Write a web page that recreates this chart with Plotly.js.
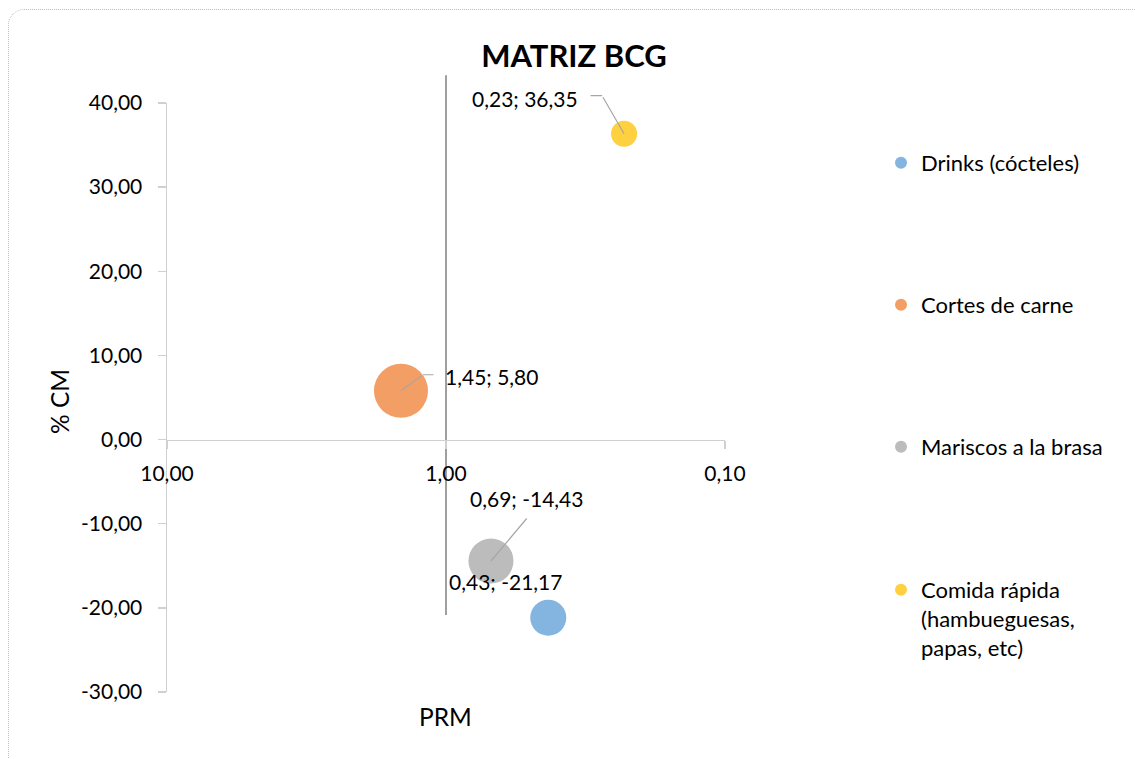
<!DOCTYPE html>
<html>
<head>
<meta charset="utf-8">
<script src="https://cdn.plot.ly/plotly-3.0.1.min.js"></script>
<style>
html,body{margin:0;padding:0;background:#fff;}
#wrap{position:relative;width:1135px;height:759px;overflow:hidden;}
#chart{position:absolute;left:0;top:0;width:1135px;height:759px;}
#frame{position:absolute;left:8px;top:9px;width:1140px;height:770px;border:1.5px dotted #bdbdbd;border-radius:16px;pointer-events:none;box-sizing:border-box;}
</style>
</head>
<body>
<div id="wrap"><div id="chart"></div><div id="frame"></div></div>
<script>
// ---- data ----
const categories = ["Drinks (cócteles)", "Cortes de carne", "Mariscos a la brasa", "Comida rápida<br>(hambueguesas,<br>papas, etc)"];
const prm = [0.43, 1.45, 0.69, 0.23];          // x (PRM)
const cm = [-21.17, 5.80, -14.43, 36.35];       // y (% CM)
const bubbleSize = [1.30, 2.92, 2.03, 0.68];    // relative bubble sizes (estimated)
const xTickVals = [10, 1, 0.1];
const xTickText = ["10,00", "1,00", "0,10"];
const yTickVals = [-30, -20, -10, 0, 10, 20, 30, 40];
const yRange = [-30, 40];
const xRange = [10, 0.1];
const divider = {x: 1, yTop: 43.3, yBottom: -20.85};

const colors = ["#84B4E0", "#F29E65", "#BCBCBC", "#FFD040"];
const FONT = "Lato, 'Open Sans', sans-serif";
const FS = 21;

// label placement (px, relative to bubble centre; +y = down)
const labelOffsets = [[-43, -36], [91, -14], [36, -62], [-99, -35]];
// leader line: elbow point and end of the horizontal run (null = none)
const leaderElbow = [null, [22, -16], [37, -44], [-22, -38]];
const leaderEnd = [null, [34, -16], [37, -44], [-35, -38]];

const fmt = v => v.toFixed(2).replace('.', ',');

const traces = categories.map((c, i) => ({
  type: 'scatter', mode: 'markers',
  x: [prm[i]], y: [cm[i]], name: c,
  marker: {size: [bubbleSize[i]], sizemode: 'area', sizeref: 0.002, color: colors[i], line: {width: 0}, opacity: 1},
  cliponaxis: false,
  showlegend: true,
  legend: i === 0 ? 'legend' : 'legend' + (i + 1),
  hoverinfo: 'skip'
}));

const annotations = [];
categories.forEach((c, i) => {
  const lx = Math.log10(prm[i]);
  if (leaderElbow[i]) {
    const e = leaderElbow[i], f = leaderEnd[i];
    // diagonal from bubble centre to elbow
    annotations.push({
      x: lx, y: cm[i], xref: 'x', yref: 'y', text: '', showarrow: true,
      arrowhead: 0, arrowwidth: 1.2, arrowcolor: '#A6A6A6',
      ax: e[0], ay: e[1], standoff: 0, startstandoff: 0
    });
    if (f[0] !== e[0]) {
      annotations.push({
        x: lx, y: cm[i], xref: 'x', yref: 'y', text: '', showarrow: true,
        arrowhead: 0, arrowwidth: 1.2, arrowcolor: '#A6A6A6',
        ax: f[0] - e[0], ay: 0, xshift: e[0], yshift: -e[1], standoff: 0, startstandoff: 0
      });
    }
  }
  annotations.push({
    x: lx, y: cm[i], xref: 'x', yref: 'y',
    text: fmt(prm[i]) + '; ' + fmt(cm[i]), showarrow: false,
    xshift: labelOffsets[i][0], yshift: -labelOffsets[i][1],
    xanchor: 'center', yanchor: 'middle',
    font: {family: FONT, size: FS, color: '#000'}
  });
});

annotations.push({
  text: 'PRM', xref: 'paper', yref: 'paper', x: (445 - 167) / 558, y: (692 - 716) / 589,
  showarrow: false, xanchor: 'center', yanchor: 'middle',
  font: {family: FONT, size: 24.5, color: '#000'}
});
annotations.push({
  text: '% CM', xref: 'paper', yref: 'paper', x: (59 - 167) / 558, y: (692 - 402) / 589,
  showarrow: false, textangle: -90, xanchor: 'center', yanchor: 'middle',
  font: {family: FONT, size: 24.5, color: '#000'}
});

const toPaperY = v => (v - yRange[0]) / (yRange[1] - yRange[0]);
const toPaperX = v => (Math.log10(xRange[0]) - Math.log10(v)) / (Math.log10(xRange[0]) - Math.log10(xRange[1]));

const legendRows = [163, 305, 447, 589];
const LFS = 22;
function legendAt(px, valign) {
  return {
    visible: true,
    x: 1.2796, xanchor: 'left', y: (692 - px) / 589, yanchor: valign === 'top' ? 'top' : 'middle',
    font: {family: FONT, size: LFS, color: '#000'}, bgcolor: 'rgba(0,0,0,0)',
    itemsizing: 'constant', valign: valign || 'middle'
  };
}

const layout = {
  width: 1135, height: 759,
  margin: {l: 167, r: 410, t: 103, b: 67},
  paper_bgcolor: '#fff', plot_bgcolor: 'rgba(0,0,0,0)',
  separators: ',.',
  showlegend: true,
  title: {text: '<b>MATRIZ BCG</b>', font: {family: FONT, size: 31, color: '#000'}, x: 574 / 1135, xanchor: 'center', y: 1 - 56 / 759, yanchor: 'middle'},
  font: {family: FONT, size: FS, color: '#000'},
  xaxis: {
    type: 'log', range: [Math.log10(xRange[0]), Math.log10(xRange[1])],
    anchor: 'free', position: toPaperY(0),
    tickvals: xTickVals, ticktext: xTickText,
    showline: true, linecolor: '#D0D0D0', linewidth: 1.5,
    ticks: 'outside', ticklen: 8, tickcolor: '#D0D0D0', tickwidth: 1.5,
    ticklabelstandoff: 7,
    showgrid: false, zeroline: false,
    tickfont: {family: FONT, size: FS, color: '#000'}
  },
  yaxis: {
    range: yRange,
    tickvals: yTickVals, ticktext: yTickVals.map(fmt),
    showline: true, linecolor: '#D0D0D0', linewidth: 1.5,
    ticks: 'outside', ticklen: 8, tickcolor: '#D0D0D0', tickwidth: 1.5,
    ticklabelstandoff: 11,
    showgrid: false, zeroline: false,
    tickfont: {family: FONT, size: FS, color: '#000'}
  },
  shapes: [{
    type: 'line', xref: 'paper', yref: 'paper',
    x0: toPaperX(divider.x), x1: toPaperX(divider.x),
    y0: toPaperY(divider.yTop), y1: toPaperY(divider.yBottom),
    line: {color: '#7F7F7F', width: 1.5}, layer: 'below'
  }],
  annotations: annotations,
  legend: legendAt(legendRows[0]),
  legend2: legendAt(legendRows[1]),
  legend3: legendAt(legendRows[2]),
  legend4: legendAt(legendRows[3] - 20, 'top'),
  hovermode: false
};

Plotly.newPlot('chart', traces, layout, {displayModeBar: false, staticPlot: true});
</script>
</body>
</html>
